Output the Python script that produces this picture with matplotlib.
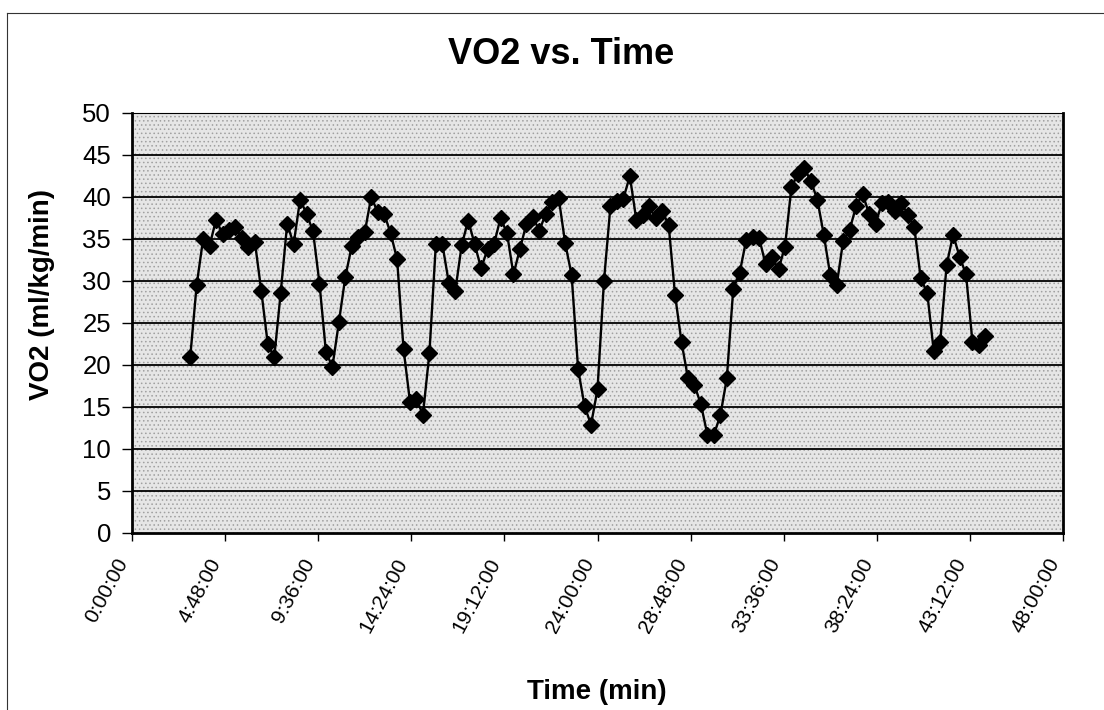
import matplotlib
matplotlib.use("Agg")
import matplotlib.pyplot as plt
from matplotlib.lines import Line2D
from matplotlib.patches import Rectangle

plt.rcParams['font.family'] = ['Liberation Sans', 'DejaVu Sans']

# Elapsed time of each sample (min:sec)
time_labels = [
    "3:00", "3:20", "3:40", "4:00", "4:20", "4:40", "5:00", "5:20", "5:40",
    "6:00", "6:20", "6:40", "7:00", "7:20", "7:40", "8:00", "8:20", "8:40",
    "9:00", "9:20", "9:40", "10:00", "10:20", "10:40", "11:00", "11:20", "11:40",
    "12:00", "12:20", "12:40", "13:00", "13:20", "13:40", "14:00", "14:20", "14:40",
    "15:00", "15:20", "15:40", "16:00", "16:20", "16:40", "17:00", "17:20", "17:40",
    "18:00", "18:20", "18:40", "19:00", "19:20", "19:40", "20:00", "20:20", "20:40",
    "21:00", "21:20", "21:40", "22:00", "22:20", "22:40", "23:00", "23:20", "23:40",
    "24:00", "24:20", "24:40", "25:00", "25:20", "25:40", "26:00", "26:20", "26:40",
    "27:00", "27:20", "27:40", "28:00", "28:20", "28:40", "29:00", "29:20", "29:40",
    "30:00", "30:20", "30:40", "31:00", "31:20", "31:40", "32:00", "32:20", "32:40",
    "33:00", "33:20", "33:40", "34:00", "34:20", "34:40", "35:00", "35:20", "35:40",
    "36:00", "36:20", "36:40", "37:00", "37:20", "37:40", "38:00", "38:20", "38:40",
    "39:00", "39:20", "39:40", "40:00", "40:20", "40:40", "41:00", "41:20", "41:40",
    "42:00", "42:20", "42:40", "43:00", "43:20", "43:40", "44:00",
]

vo2 = [
    20.9, 29.5, 35.0, 34.2, 37.3, 35.6, 36.1, 36.4, 35.1,
    34.0, 34.7, 28.8, 22.5, 20.9, 28.6, 36.8, 34.4, 39.7,
    38.0, 35.9, 29.7, 21.5, 19.8, 25.1, 30.5, 34.2, 35.2,
    35.8, 40.0, 38.2, 38.0, 35.7, 32.6, 21.9, 15.6, 15.9,
    14.1, 21.4, 34.4, 34.4, 29.8, 28.8, 34.3, 37.2, 34.4,
    31.5, 33.8, 34.4, 37.5, 35.7, 30.8, 33.8, 36.8, 37.6,
    36.0, 38.0, 39.4, 39.9, 34.5, 30.7, 19.5, 15.1, 12.9,
    17.1, 30.0, 38.9, 39.5, 39.8, 42.5, 37.3, 37.8, 38.9,
    37.5, 38.3, 36.7, 28.3, 22.7, 18.4, 17.6, 15.3, 11.7,
    11.7, 14.0, 18.4, 29.1, 31.0, 34.9, 35.2, 35.1, 32.0,
    32.8, 31.4, 34.1, 41.2, 42.7, 43.4, 41.9, 39.7, 35.5,
    30.7, 29.5, 34.8, 36.1, 38.9, 40.4, 38.0, 36.8, 39.3,
    39.4, 38.3, 39.3, 37.9, 36.4, 30.3, 28.6, 21.7, 22.7,
    31.9, 35.5, 32.9, 30.8, 22.7, 22.4, 23.4,
]

x_ticks = [0, 4.8, 9.6, 14.4, 19.2, 24.0, 28.8, 33.6, 38.4, 43.2, 48.0]
x_tick_labels = ["0:00:00", "4:48:00", "9:36:00", "14:24:00", "19:12:00", "24:00:00",
                 "28:48:00", "33:36:00", "38:24:00", "43:12:00", "48:00:00"]
y_ticks = [0, 5, 10, 15, 20, 25, 30, 35, 40, 45, 50]


def to_minutes(s):
    m, sec = s.split(":")
    return int(m) + int(sec) / 60.0


minutes = [to_minutes(t) for t in time_labels]

W, H = 1104, 710
fig = plt.figure(figsize=(W / 100, H / 100), dpi=100)
fig.patch.set_facecolor("white")

ax = fig.add_axes([132 / W, (H - 533) / H, (1063 - 132) / W, (533 - 113) / H])
ax.set_facecolor("#e6e6e6")
plt.rcParams['hatch.linewidth'] = 0.6
ax.add_patch(Rectangle((0, 0), 1, 1, transform=ax.transAxes, facecolor="none",
                       edgecolor="#a0a0a0", hatch="....", linewidth=0, zorder=0))

ax.set_xlim(0, 48)
ax.set_ylim(0, 50)
ax.set_yticks(y_ticks)
ax.set_yticklabels([str(v) for v in y_ticks], fontsize=18.5)
ax.set_xticks(x_ticks)
ax.set_xticklabels(x_tick_labels, rotation=62, ha="right", fontsize=15)
ax.tick_params(axis="y", direction="out", length=7, width=1, pad=8)
ax.tick_params(axis="x", direction="out", length=6, width=1, pad=10)

for v in y_ticks[1:]:
    ax.axhline(v, color="black", linewidth=1.3, zorder=1)

for side in ["left", "bottom", "right"]:
    ax.spines[side].set_linewidth(2)
    ax.spines[side].set_color("black")
ax.spines["top"].set_linewidth(0.8)

ax.plot(minutes, vo2, color="black", linewidth=1.7, marker="D", markersize=8,
        markerfacecolor="black", markeredgecolor="black", zorder=3, clip_on=False)

fig.text(561 / W, 1 - 55 / H, "VO2 vs. Time", ha="center", va="center",
         fontsize=26, fontweight="bold")
fig.text(597 / W, 1 - 692 / H, "Time (min)", ha="center", va="center",
         fontsize=20, fontweight="bold")
fig.text(42 / W, 1 - 294 / H, "VO2 (ml/kg/min)", ha="center", va="center",
         rotation=90, fontsize=20, fontweight="bold")

# outer chart frame
fig.add_artist(Line2D([7 / W, 7 / W], [0, 1 - 13 / H], color="#333333", linewidth=0.8,
                      transform=fig.transFigure))
fig.add_artist(Line2D([7 / W, 1], [1 - 13 / H, 1 - 13 / H], color="#333333", linewidth=0.8,
                      transform=fig.transFigure))

fig.savefig("out.png", dpi=100)
